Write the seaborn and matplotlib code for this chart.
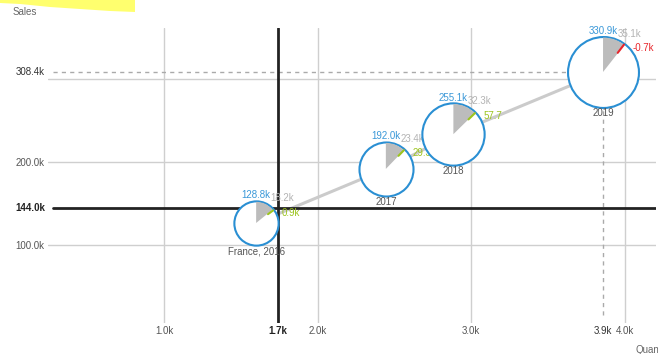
import numpy as np
import pandas as pd
import matplotlib
matplotlib.use("Agg")
import matplotlib.pyplot as plt
import matplotlib.transforms as mtransforms
from matplotlib.patches import Wedge, Polygon
from matplotlib.lines import Line2D
import seaborn as sns

# ---- data ----
labels = ["France, 2016", "2017", "2018", "2019"]
quantity = [1600, 2445, 2885, 3860]
sales = [126500, 191600, 233500, 308400]
bubble_value = [128800, 192000, 255100, 330900]
prior_value = [18200, 23400, 32300, 35100]
delta_value = [900, 29.3, 57.7, -700]

ref_quantity = 1740
ref_sales = 144000

x_ticks = [1000, 2000, 3000, 4000]
y_ticks = [100000, 200000, 300000]
y_tick_labels = ["100.0k", "200.0k", ""]

# ---- styling ----
sns.set_style("white")
plt.rcParams["font.family"] = ["Liberation Sans", "DejaVu Sans"]

BLUE = "#2a8fd3"
BLUE_TXT = "#3a98d8"
GRAY_WEDGE = "#bcbcbc"
GRAY_TXT = "#b3b3b3"
GREEN = "#9cc41d"
RED = "#e8262c"
GRID = "#cfcfcf"
FS = 7

W, H = 658, 354
fig = plt.figure(figsize=(W / 100, H / 100), dpi=100)
ax_l, ax_r, ax_t, ax_b = 48, 656, 28, 323
ax = fig.add_axes([ax_l / W, 1 - ax_b / H, (ax_r - ax_l) / W, (ax_b - ax_t) / H])

X_MIN, X_MAX = 244, 4205
Y_MIN, Y_MAX = 6020, 361400

def kfmt(v):
    return f"{v / 1000:.1f}k"

def delta_fmt(v):
    return kfmt(v) if abs(v) >= 100 else f"{v:.1f}"

# bubble area scale (points^2 per unit of value)
SIZE_NORM = (0, 400000)
SIZE_RANGE = (0, 3154)

df = pd.DataFrame({"quantity": quantity, "sales": sales})

# trajectory line between the years
sns.lineplot(data=df, x="quantity", y="sales", sort=False, color="#cbcbcb",
             linewidth=2.2, ax=ax, zorder=2, legend=False)

# reference lines
ax.axvline(ref_quantity, color="#222222", lw=2, zorder=2.5)
ax.axhline(ref_sales, xmin=5 / (ax_r - ax_l), color="#222222", lw=2, zorder=2.5)

# dashed guides to the latest point
ax.plot([X_MIN + 5 / 153.5 * 1000, quantity[-1]], [sales[-1], sales[-1]],
        ls=(0, (3, 3)), color="#aaaaaa", lw=1, zorder=2.2)
ax.plot([quantity[-1], quantity[-1]], [Y_MIN + 8 / 0.83 * 1000, sales[-1]],
        ls=(0, (3, 3)), color="#aaaaaa", lw=1, zorder=2.2)

for i in range(len(labels)):
    q, s, v = quantity[i], sales[i], bubble_value[i]
    z = 3 + 2 * i
    sns.scatterplot(x=[q], y=[s], size=[v], sizes=SIZE_RANGE, size_norm=SIZE_NORM,
                    color="white", edgecolor=BLUE, linewidth=1.5, legend=False,
                    ax=ax, zorder=z)
    area = SIZE_RANGE[1] * v / SIZE_NORM[1]
    r_px = np.sqrt(area) / 2 / 0.72
    r_in = (r_px - 1) / 100
    tr = fig.dpi_scale_trans + mtransforms.ScaledTranslation(q, s, ax.transData)

    ang = prior_value[i] / v * 360
    ax.add_patch(Wedge((0, 0), r_in, 90 - ang, 90, transform=tr,
                       facecolor=GRAY_WEDGE, edgecolor="none", zorder=z + 0.1))
    a2 = np.radians(ang + delta_value[i] / v * 360)
    dcol = GREEN if delta_value[i] >= 0 else RED
    ax.add_line(Line2D([0.7 * r_in * np.sin(a2), r_in * np.sin(a2)],
                       [0.7 * r_in * np.cos(a2), r_in * np.cos(a2)],
                       transform=tr, color=dcol, lw=1.5, zorder=z + 0.2))

    t_val = ax.annotate(kfmt(v), xy=(q, s), xytext=(0, (r_px + 0.5) * 0.72),
                        textcoords="offset points", ha="center", va="bottom",
                        fontsize=FS, color=BLUE_TXT, zorder=z + 0.3)
    ax.annotate(kfmt(prior_value[i]), xy=(1, 0), xycoords=t_val,
                xytext=(0, -2.2), textcoords="offset points", ha="left", va="bottom",
                fontsize=FS, color=GRAY_TXT, zorder=z + 0.3)
    ra = np.radians(ang)
    ax.annotate(delta_fmt(delta_value[i]), xy=(q, s),
                xytext=((r_px * np.sin(ra) + 8) * 0.72, (r_px * np.cos(ra) - 4) * 0.72),
                textcoords="offset points", ha="left", va="center",
                fontsize=FS, color=dcol, zorder=z + 0.3)
    ax.annotate(labels[i], xy=(q, s), xytext=(0, -(r_px + 1) * 0.72),
                textcoords="offset points", ha="center", va="top",
                fontsize=FS, color="#555555", zorder=z + 0.3)

# axes, grid, ticks
ax.set_xlim(X_MIN, X_MAX)
ax.set_ylim(Y_MIN, Y_MAX)
ax.set_xticks(x_ticks)
ax.set_xticklabels([kfmt(v) for v in x_ticks])
ax.set_yticks(y_ticks)
ax.set_yticklabels(y_tick_labels)
ax.grid(True, color=GRID, lw=1, zorder=0)
ax.set_axisbelow(True)
ax.tick_params(length=0, labelsize=FS, labelcolor="#555555", pad=2.5)
for sp in ax.spines.values():
    sp.set_visible(False)
ax.set_xlabel("")
ax.set_ylabel("")

bx = mtransforms.blended_transform_factory(ax.transData, ax.transAxes)
by = mtransforms.blended_transform_factory(ax.transAxes, ax.transData)
lab_off_x = -3 / (ax_r - ax_l)
lab_off_y = -3 / (ax_b - ax_t)
ax.text(lab_off_x, ref_sales, kfmt(ref_sales), transform=by, ha="right", va="center",
        fontsize=FS, color="#222222", fontweight="bold")
ax.text(lab_off_x, sales[-1], kfmt(sales[-1]), transform=by, ha="right", va="center",
        fontsize=FS, color="#333333")
ax.text(ref_quantity, lab_off_y, kfmt(ref_quantity), transform=bx, ha="center", va="top",
        fontsize=FS, color="#222222", fontweight="bold")
ax.text(quantity[-1], lab_off_y, kfmt(quantity[-1]), transform=bx, ha="center", va="top",
        fontsize=FS, color="#333333")

# axis titles
fig.text(13 / W, 1 - 12 / H, "Sales", ha="left", va="center", fontsize=FS, color="#666666")
fig.text(636 / W, 1 - 350 / H, "Quantity", ha="left", va="center", fontsize=FS, color="#666666")

# highlighter mark in the corner
hl = [(0, 0), (135, 0), (135, 12), (110, 11), (80, 9), (50, 7), (20, 4), (0, 3)]
fig.patches.append(Polygon([(x / W, 1 - y / H) for x, y in hl], closed=True,
                           transform=fig.transFigure, facecolor="#ffff6e",
                           edgecolor="none", zorder=0))

fig.savefig("out.png", dpi=100)
